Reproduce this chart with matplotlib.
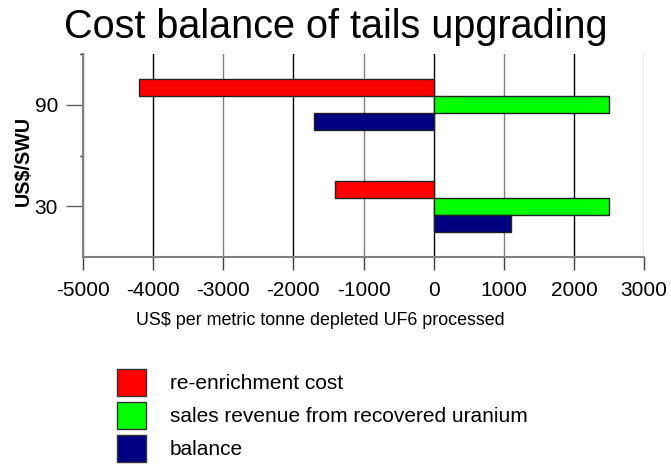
import numpy as np
import matplotlib.pyplot as plt
from matplotlib.patches import Patch

plt.rcParams['font.family'] = ['Liberation Sans', 'DejaVu Sans']

# data
swu_prices = [90, 30]
reenrichment_cost = [-4200, -1400]
sales_revenue = [2500, 2500]
balance = [-1700, 1100]
series_labels = ["re-enrichment cost", "sales revenue from recovered uranium", "balance"]
series_colors = ["#FF0000", "#00FF00", "#000080"]

fig = plt.figure(figsize=(6.71, 4.65), dpi=100)
ax = fig.add_axes([83 / 671, 208 / 465, 561 / 671, 203 / 465])

bar_h = 10
y = np.array(swu_prices)
for offset, vals, col in zip([10, 0, -10], [reenrichment_cost, sales_revenue, balance], series_colors):
    ax.barh(y + offset, vals, height=bar_h, color=col, edgecolor="#222222", linewidth=1, zorder=3)

ax.set_xlim(-5000, 3000)
ax.set_ylim(0, 120)
xt = np.arange(-5000, 3001, 1000)
ax.set_xticks(xt)
ax.set_xticklabels([str(v) for v in xt], fontsize=15)
ax.set_yticks([30, 90])
ax.set_yticklabels(["30", "90"], fontsize=15)
ax.set_yticks([60, 120], minor=True)

# vertical grid lines, alternating black / grey
for v in xt:
    c = "black" if v % 2000 == 0 else "#808080"
    ax.axvline(v, color=c, linewidth=1.0, zorder=1)

for s in ["top", "right"]:
    ax.spines[s].set_visible(False)
ax.spines["left"].set_color("#808080")
ax.spines["bottom"].set_color("#808080")
ax.spines["left"].set_linewidth(1.5)
ax.spines["bottom"].set_linewidth(1.5)

ax.tick_params(axis="x", length=9, width=1, color="#404040", pad=8)
ax.tick_params(axis="y", which="major", length=12, width=1, color="#606060", pad=6)
ax.tick_params(axis="y", which="minor", length=2, width=1, color="black")

ax.set_xlabel("US$ per metric tonne depleted UF6 processed", fontsize=12.9, va="top")
ax.xaxis.set_label_coords(0.423, -0.27)
ax.set_ylabel("US$/SWU", fontsize=14.2, fontweight="bold", va="center")
ax.yaxis.set_label_coords(-0.107, 0.473)

fig.text(0.5, 1 - 27 / 465, "Cost balance of tails upgrading", fontsize=28.5,
         ha="center", va="center")

handles = [Patch(facecolor=c, edgecolor="#333333", linewidth=1) for c in series_colors]
fig.legend(handles, series_labels, loc="upper left", bbox_to_anchor=(117 / 671, 1 - 369 / 465),
           frameon=False, fontsize=15, handlelength=1.4, handleheight=1.6,
           labelspacing=0.3, handletextpad=1.15, borderpad=0, borderaxespad=0)

fig.savefig("out.png", dpi=100)
